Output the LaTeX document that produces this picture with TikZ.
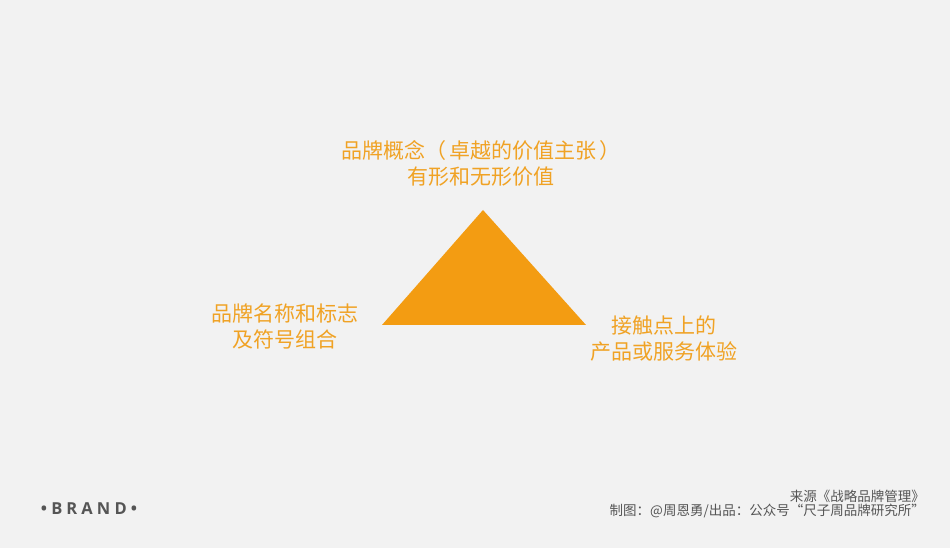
\documentclass[tikz,border=0pt]{standalone}
\usepackage{fontspec}
\setmainfont{Noto Sans CJK SC}
\newfontfamily\brandfont[LetterSpace=25]{Open Sans Bold}
\usepackage{tikz}
\usetikzlibrary{positioning}

\definecolor{bgGray}{HTML}{F2F2F2}
\definecolor{brandOrange}{HTML}{F39C12}
\definecolor{labelOrange}{HTML}{F0A224}
\definecolor{noteGray}{HTML}{555555}

\tikzset{
  pillar/.style={text=labelOrange, align=center, font=\fontsize{21bp}{26bp}\selectfont, inner sep=0pt},
  note/.style={text=noteGray, font=\fontsize{13.5bp}{16bp}\selectfont, inner sep=0pt, anchor=east}
}

\begin{document}
\begin{tikzpicture}[x=1bp, y=-1bp]
      \fill[bgGray] (0,0) rectangle (950,548);
      \useasboundingbox (0,0) rectangle (950,548);

      % triangle
      \coordinate (apex) at (483,210);
      \coordinate (baseL) at (382,325);
      \coordinate (baseR) at (586,325);
      \fill[brandOrange] (apex) -- (baseR) -- (baseL) -- cycle;

      \node[pillar] (concept) at (481,163) {品牌概念（\,卓越的价值主张\,）\\有形和无形价值};
      \node[pillar] (name) at (285,326) {品牌名称和标志\\及符号组合};
      \node[pillar] (touch) at (664,339) {接触点上的\\产品或服务体验};

      \node[text=noteGray, font=\brandfont\fontsize{16.5bp}{18bp}\selectfont, inner sep=0pt] (brand) at (89,509) {•BRAND•};

      \node[note] (source) at (925,496) {来源《战略品牌管理》};
      \node[note] (credit) at (925,511) {制图：@周恩勇/出品：公众号“尺子周品牌研究所”};
    \end{tikzpicture}
\end{document}
